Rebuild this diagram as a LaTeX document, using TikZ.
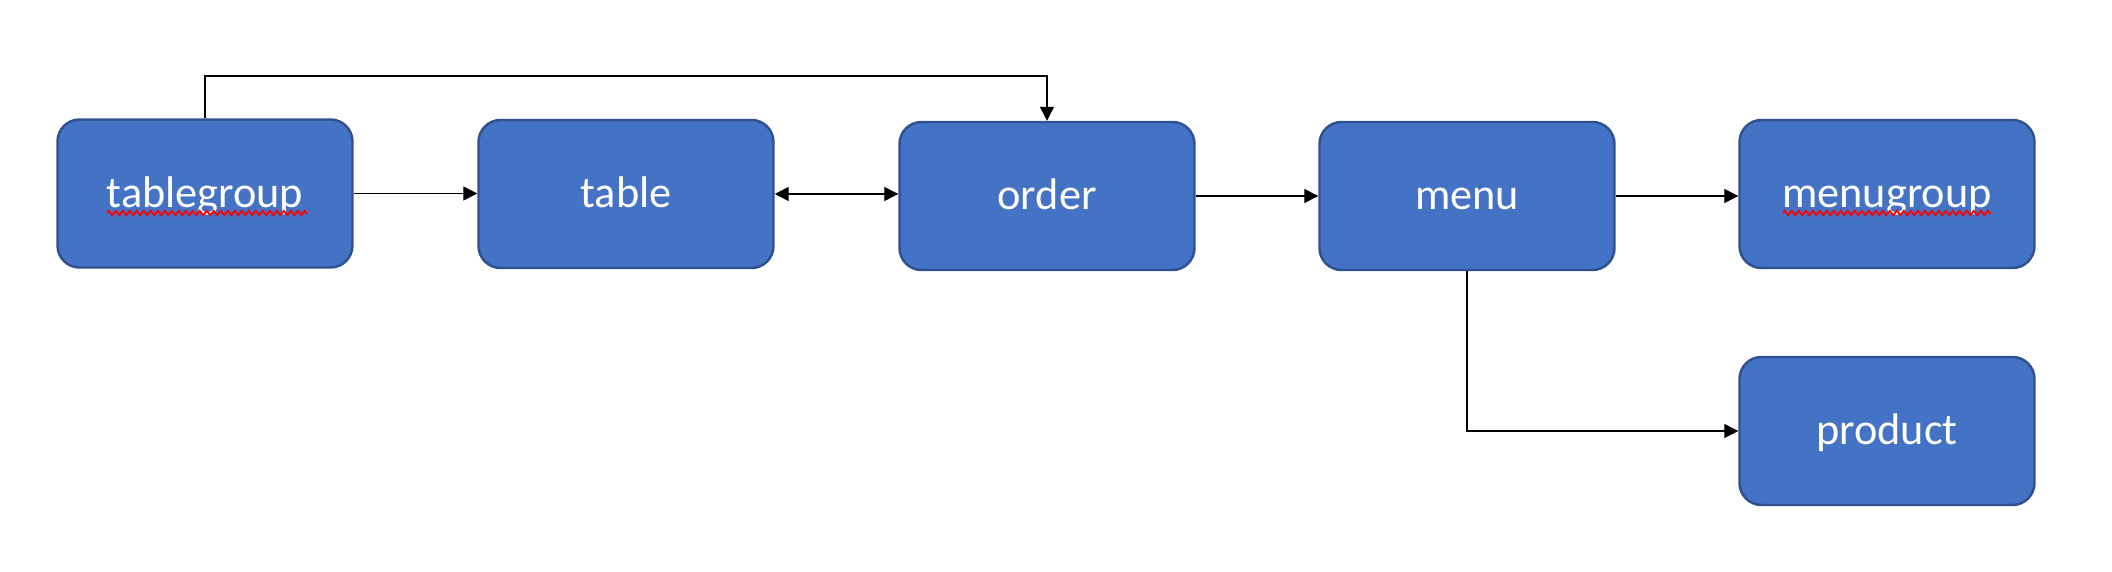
\documentclass[tikz,border=0pt]{standalone}
\usepackage{fontspec}
\setmainfont{Carlito}
\usepackage{tikz}
\usetikzlibrary{arrows.meta, positioning, decorations.pathmorphing}
\definecolor{boxblue}{HTML}{4472C4}
\definecolor{boxedge}{HTML}{2F528F}

\begin{document}
\begin{tikzpicture}[
    entity/.style={draw=boxedge, line width=0.7pt, fill=boxblue, rounded corners=0.22cm,
        minimum width=2.95cm, minimum height=1.48cm, text=white,
        text height=0.29cm, text depth=0.01cm,
        font=\fontsize{12.6}{14}\selectfont},
    link/.style={line width=0.4pt, -{Triangle[length=0.14cm, width=0.14cm]}},
    squiggle/.style={red, line width=0.5pt, decorate,
        decoration={zigzag, segment length=0.07cm, amplitude=0.022cm}}
]
            \useasboundingbox (0,0) rectangle (21.12,-5.72);

            \node[entity] (tgroup) at (2.05,-1.935) {tablegroup};
            \node[entity] (tbl) at (6.26,-1.94) {table};
            \node[entity] (ord) at (10.47,-1.96) {order};
            \node[entity] (menu) at (14.67,-1.96) {menu};
            \node[entity] (mgroup) at (18.87,-1.94) {menugroup};
            \node[entity] (prod) at (18.87,-4.31) {product};

            % spell-check marks
            \draw[squiggle] (1.07,-2.13) -- (3.07,-2.13);
            \draw[squiggle] (17.83,-2.13) -- (19.91,-2.13);

            \coordinate (over) at (10.47,-0.76);
            \draw[link] (tgroup.north) |- (over) -- (ord.north);
            \draw[link] (tgroup.east) -- (tgroup.east -| tbl.west);
            \draw[link, {Triangle[length=0.14cm, width=0.14cm]}-{Triangle[length=0.14cm, width=0.14cm]}] (tbl.east) -- (tbl.east -| ord.west);
            \draw[link] (ord.east) -- (ord.east -| menu.west);
            \draw[link] (menu.east) -- (menu.east -| mgroup.west);
            \draw[link] (menu.south) |- (prod.west);
        \end{tikzpicture}
\end{document}
